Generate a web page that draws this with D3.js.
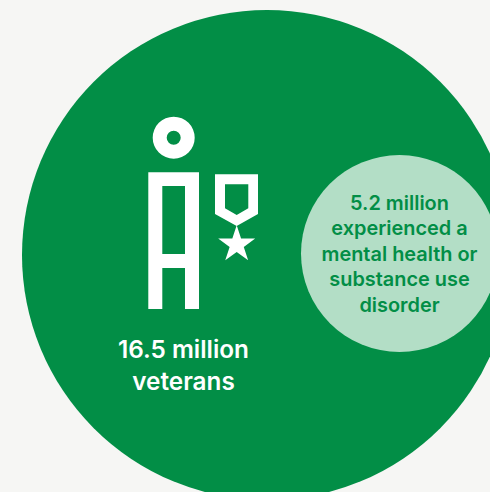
<!DOCTYPE html>
<html>
<head>
<meta charset="utf-8">
<script src="https://cdn.jsdelivr.net/npm/d3@7"></script>
<style>
html, body { margin: 0; padding: 0; background: #f6f6f4; overflow: hidden; }
svg { display: block; }
text { font-family: Inter, "Noto Sans", sans-serif; font-weight: 600; text-anchor: middle; }
</style>
</head>
<body>
<svg id="chart" width="490" height="492"></svg>
<script>
// Population figures, in millions
const groups = ["veterans", "with a disorder"];
const millions = [16.5, 5.2];
const veteransLabel = ["16.5 million", "veterans"];
const disorderLabel = ["5.2 million", "experienced a", "mental health or", "substance use", "disorder"];

const GREEN = "#028e46", PALE = "#b3dec6", WHITE = "#ffffff";
const svg = d3.select("#chart");

const radius = d3.scaleLinear().domain([5.2, 16.5]).range([98.5, 245]);
const centreX = d3.scaleOrdinal().domain(groups).range([267, 399.5]);
const centreY = d3.scaleOrdinal().domain(groups).range([255, 253.5]);
const fills = d3.scaleOrdinal().domain(groups).range([GREEN, PALE]);

svg.selectAll("circle.group")
  .data(groups)
  .join("circle")
  .attr("class", "group")
  .attr("cx", d => centreX(d))
  .attr("cy", d => centreY(d))
  .attr("r", (d, i) => radius(millions[i]))
  .attr("fill", d => fills(d));

// Veteran pictogram: a ring head, a body with legs, and a medal with a star
const icon = svg.append("g").attr("fill", WHITE);

const head = d3.path();
head.arc(173.7, 137.7, 21, 0, 2 * Math.PI);
head.closePath();
head.moveTo(180.7, 137.7);
head.arc(173.7, 137.7, 7, 0, 2 * Math.PI, true);
head.closePath();
icon.append("path").attr("fill-rule", "evenodd").attr("d", head.toString());

const outline = d3.line();
const body = outline([[148.3, 172.3], [199, 172.3], [199, 309], [185, 309], [185, 268], [162.3, 268], [162.3, 309], [148.3, 309]]) + "Z"
  + outline([[162.3, 186], [185, 186], [185, 254], [162.3, 254]]) + "Z";
icon.append("path").attr("fill-rule", "evenodd").attr("d", body);

const ribbon = outline([[215, 174.3], [258, 174.3], [258, 214], [236.7, 226], [215, 214]]) + "Z"
  + outline([[225, 184.3], [248.3, 184.3], [248.3, 208.3], [236.7, 215], [225, 208.3]]) + "Z";
icon.append("path").attr("fill-rule", "evenodd").attr("d", ribbon);

const star = d3.symbol().type(d3.symbolStar).size(425);
icon.append("path").attr("transform", "translate(236.7,244.6)").attr("d", star());

// Captions
svg.append("g").attr("fill", WHITE).attr("font-size", 24.3)
  .selectAll("text").data(veteransLabel).join("text")
  .attr("x", 183.5)
  .attr("y", (d, i) => 357.5 + i * 32)
  .text(d => d);

svg.append("g").attr("fill", GREEN).attr("font-size", 19.9)
  .selectAll("text").data(disorderLabel).join("text")
  .attr("x", 399.5)
  .attr("y", (d, i) => 210 + i * 25.4)
  .text(d => d);
</script>
</body>
</html>
